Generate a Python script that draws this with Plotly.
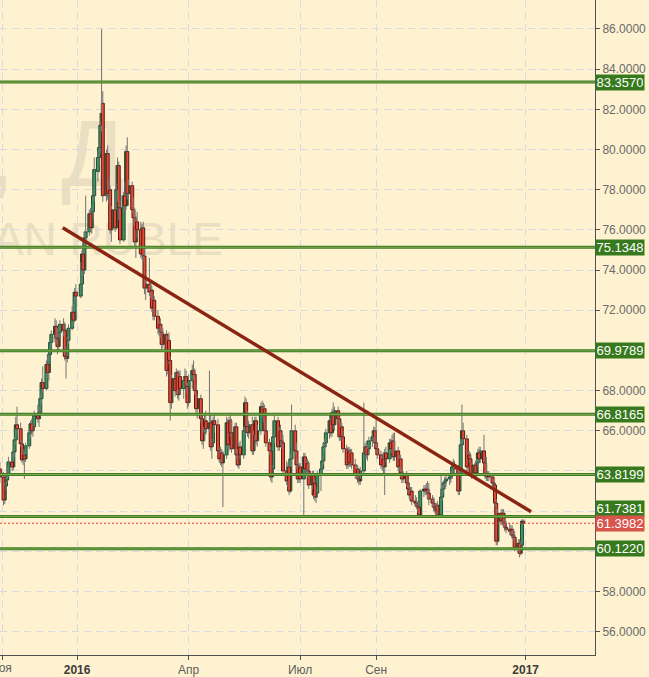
import plotly.graph_objects as go

# Daily USD/RUB candles: (day, open, high, low, close)
oct15 = [(30, 64.10, 64.45, 63.40, 63.70)]
nov15 = [
    (2, 63.70, 63.95, 62.30, 62.55), (3, 62.55, 63.40, 62.35, 63.25), (4, 63.25, 63.70, 63.05, 63.55),
    (5, 63.55, 64.20, 63.40, 63.85), (6, 63.85, 64.70, 63.70, 64.45), (9, 64.45, 64.90, 64.00, 64.20),
    (10, 64.20, 65.10, 64.05, 64.95), (11, 64.95, 65.70, 64.70, 65.55), (12, 65.55, 66.70, 65.30, 66.30),
    (13, 66.30, 67.20, 65.80, 66.10), (16, 66.10, 66.40, 65.20, 65.35), (17, 65.35, 65.60, 64.40, 64.55),
    (18, 64.55, 65.10, 64.30, 64.80), (19, 64.80, 65.00, 63.60, 64.60), (20, 64.60, 65.40, 64.45, 65.25),
    (23, 65.25, 66.10, 65.10, 65.90), (24, 65.90, 66.50, 65.60, 66.35), (25, 66.35, 66.60, 65.80, 66.00),
    (26, 66.00, 66.40, 65.70, 66.20), (27, 66.20, 67.00, 66.00, 66.75), (30, 66.75, 67.30, 66.40, 66.60),
]
dec15 = [
    (1, 66.60, 67.20, 66.20, 66.90), (2, 66.90, 67.80, 66.70, 67.60), (3, 67.60, 68.60, 67.30, 68.40),
    (4, 68.40, 69.20, 67.90, 68.10), (7, 68.10, 69.50, 68.00, 69.30), (8, 69.30, 69.80, 68.60, 68.90),
    (9, 68.90, 70.10, 68.50, 69.80), (10, 69.80, 70.60, 69.40, 70.40), (11, 70.40, 71.00, 70.00, 70.80),
    (14, 70.80, 71.60, 70.40, 71.20), (15, 71.20, 71.50, 70.30, 70.60), (16, 70.60, 71.10, 69.80, 70.20),
    (17, 70.20, 71.20, 70.00, 70.90), (18, 70.90, 71.50, 70.60, 71.30), (21, 71.30, 71.60, 70.70, 71.00),
    (22, 71.00, 71.40, 69.50, 69.70), (23, 69.70, 70.20, 68.60, 69.60), (24, 69.60, 70.70, 69.40, 70.50),
    (25, 70.50, 71.30, 70.30, 71.10), (28, 71.10, 72.20, 71.00, 71.90), (29, 71.90, 72.30, 71.20, 71.50),
    (30, 71.50, 73.10, 71.40, 72.90), (31, 72.90, 73.30, 72.40, 72.70),
]
jan16 = [
    (4, 72.70, 74.40, 72.60, 73.30), (5, 73.30, 75.00, 73.20, 74.80), (6, 74.80, 75.30, 73.70, 74.00),
    (7, 74.00, 75.90, 73.80, 75.60), (8, 75.60, 77.70, 75.20, 75.90), (11, 75.90, 77.00, 75.70, 76.80),
    (12, 76.80, 77.10, 75.90, 76.10), (13, 76.10, 77.20, 75.80, 76.90), (14, 76.90, 78.00, 76.50, 77.70),
    (15, 77.70, 79.60, 77.40, 79.00), (18, 78.90, 79.90, 78.40, 79.60), (19, 79.60, 80.40, 79.20, 80.10),
    (20, 80.10, 81.40, 79.80, 81.20), (21, 81.20, 85.99, 80.90, 81.80), (22, 82.30, 82.90, 77.40, 77.70),
    (25, 77.70, 80.00, 77.40, 79.80), (26, 79.80, 80.20, 77.50, 77.80), (27, 77.80, 78.60, 77.30, 78.00),
    (28, 78.00, 78.20, 75.80, 76.00), (29, 76.00, 77.20, 75.40, 77.00),
]
feb16 = [
    (1, 77.00, 77.80, 75.90, 76.10), (2, 76.10, 78.30, 76.00, 78.00), (3, 78.00, 79.60, 77.40, 79.20),
    (4, 79.20, 79.40, 76.50, 77.10), (5, 77.10, 77.50, 75.30, 75.50), (8, 75.50, 77.90, 75.40, 77.70),
    (9, 77.70, 78.40, 76.90, 77.20), (10, 77.20, 80.20, 77.00, 79.90), (11, 79.90, 80.60, 77.50, 77.80),
    (12, 77.80, 78.50, 77.20, 78.20), (15, 78.20, 78.40, 76.80, 77.00), (16, 77.00, 77.60, 76.20, 76.60),
    (17, 76.60, 77.10, 75.20, 75.40), (18, 75.40, 76.70, 74.60, 76.40), (19, 76.40, 76.90, 75.60, 76.00),
    (22, 76.00, 76.40, 74.60, 74.80), (23, 74.80, 76.30, 74.50, 76.10), (24, 76.10, 76.40, 74.40, 74.70),
    (25, 74.70, 75.20, 72.80, 73.10), (26, 73.10, 73.60, 72.50, 73.30), (29, 73.30, 74.60, 72.70, 72.90),
]
mar16 = [
    (1, 72.90, 73.40, 72.60, 73.00), (2, 73.00, 73.20, 71.90, 72.10), (3, 72.10, 72.80, 71.50, 72.50),
    (4, 72.50, 72.70, 71.50, 71.70), (7, 71.70, 72.00, 70.80, 71.10), (8, 71.10, 71.50, 70.70, 71.30),
    (9, 71.30, 71.60, 70.60, 70.90), (10, 70.90, 71.20, 70.00, 70.30), (11, 70.30, 71.10, 70.10, 70.80),
    (14, 70.80, 71.00, 68.70, 69.00), (15, 69.00, 70.70, 68.80, 70.50), (16, 70.50, 70.90, 69.30, 69.50),
    (17, 69.50, 69.70, 66.50, 67.40), (18, 67.40, 68.80, 67.10, 68.60), (21, 68.60, 68.90, 67.70, 68.00),
    (22, 68.00, 69.10, 67.80, 68.90), (23, 68.90, 69.00, 67.60, 67.80), (24, 67.80, 69.00, 67.50, 68.70),
    (25, 68.70, 69.00, 67.80, 68.10), (28, 68.10, 68.70, 67.60, 68.50), (29, 68.50, 69.10, 68.20, 68.70),
    (30, 68.70, 69.00, 67.90, 68.20), (31, 68.20, 68.40, 67.10, 67.40),
]
apr16 = [
    (1, 67.40, 68.80, 67.20, 68.50), (4, 68.50, 69.30, 68.10, 69.00), (5, 69.00, 69.50, 68.50, 68.80),
    (6, 68.80, 69.10, 67.80, 68.00), (7, 68.00, 68.30, 66.90, 67.10), (8, 67.10, 67.80, 66.60, 67.60),
    (11, 67.60, 67.80, 66.40, 66.60), (12, 66.60, 66.90, 65.30, 65.50), (13, 65.50, 66.20, 65.10, 65.90),
    (14, 65.90, 66.80, 65.50, 66.50), (15, 66.50, 67.00, 65.80, 66.10), (18, 66.10, 69.00, 65.90, 66.40),
    (19, 66.40, 66.80, 65.00, 65.20), (20, 65.20, 65.60, 64.60, 65.40), (21, 65.40, 66.70, 65.20, 66.50),
    (22, 66.50, 66.80, 65.90, 66.30), (25, 66.30, 66.60, 64.80, 65.00), (26, 65.00, 65.20, 64.40, 64.60),
    (27, 64.60, 65.20, 64.30, 64.90), (28, 64.90, 65.10, 64.20, 64.40), (29, 64.40, 65.00, 62.20, 64.80),
]
may16 = [
    (2, 64.80, 66.70, 64.60, 66.40), (3, 66.40, 66.60, 65.10, 65.30), (4, 65.30, 66.70, 65.00, 66.50),
    (5, 66.50, 66.90, 65.70, 65.90), (6, 65.90, 66.60, 64.90, 65.10), (9, 65.10, 66.40, 64.90, 66.20),
    (10, 66.20, 66.40, 64.60, 64.80), (11, 64.80, 65.10, 64.20, 64.30), (12, 64.30, 65.40, 64.10, 65.20),
    (13, 65.20, 65.50, 64.60, 64.80), (16, 64.80, 66.20, 64.60, 66.00), (17, 66.00, 67.70, 65.80, 67.40),
    (18, 67.40, 67.60, 66.00, 66.20), (19, 66.20, 67.00, 65.70, 65.90), (20, 65.90, 66.50, 65.60, 66.30),
    (23, 66.30, 66.70, 64.80, 65.00), (24, 65.00, 66.00, 64.80, 65.80), (25, 65.80, 66.70, 65.50, 66.50),
    (26, 66.50, 66.70, 65.30, 65.50), (27, 65.50, 66.30, 65.20, 66.00), (30, 66.00, 67.40, 65.80, 67.20),
    (31, 67.20, 67.50, 66.60, 66.80),
]
jun16 = [
    (1, 66.80, 67.40, 66.40, 67.10), (2, 67.10, 67.30, 65.80, 66.00), (3, 66.00, 66.50, 65.20, 65.40),
    (6, 65.40, 65.60, 64.80, 65.00), (7, 65.00, 65.20, 63.50, 63.70), (8, 63.70, 64.30, 63.40, 64.10),
    (9, 64.10, 65.90, 63.90, 65.70), (10, 65.70, 66.80, 65.40, 66.50), (13, 66.50, 66.70, 65.00, 65.20),
    (14, 65.20, 66.20, 65.00, 66.00), (15, 66.00, 66.30, 65.30, 65.50), (16, 65.50, 65.90, 65.10, 65.40),
    (17, 65.40, 65.80, 63.90, 64.00), (20, 64.00, 64.50, 63.30, 63.50), (21, 63.50, 64.40, 63.20, 64.20),
    (22, 64.20, 64.40, 62.80, 63.00), (23, 63.00, 64.80, 62.90, 64.60), (24, 64.60, 67.30, 64.20, 66.00),
    (27, 66.00, 66.30, 64.80, 65.00), (28, 65.00, 65.40, 64.10, 64.30), (29, 64.30, 64.60, 63.40, 63.60),
    (30, 63.60, 64.40, 63.40, 64.20),
]
jul16 = [
    (1, 64.20, 64.40, 63.40, 63.60), (4, 63.60, 64.90, 61.80, 64.70), (5, 64.70, 64.90, 63.90, 64.10),
    (6, 64.10, 64.60, 63.80, 64.40), (7, 64.40, 64.60, 63.70, 64.00), (8, 64.00, 64.50, 63.10, 63.30),
    (11, 63.30, 64.00, 63.10, 63.80), (12, 63.80, 64.00, 62.60, 62.80), (13, 63.40, 63.60, 62.50, 62.70),
    (14, 62.70, 63.20, 62.40, 62.90), (15, 62.90, 64.00, 62.70, 63.80), (18, 63.80, 64.30, 63.00, 64.10),
    (19, 64.10, 64.70, 63.90, 64.50), (20, 64.50, 65.40, 64.30, 65.20), (21, 65.20, 65.60, 64.90, 65.40),
    (22, 65.40, 66.10, 65.20, 65.90), (25, 65.90, 66.80, 65.60, 66.50), (26, 66.50, 66.70, 65.70, 65.90),
    (27, 65.90, 67.10, 65.70, 66.90), (28, 66.90, 67.40, 66.10, 66.30), (29, 66.30, 67.20, 66.00, 67.00),
]
aug16 = [
    (1, 67.00, 67.20, 66.40, 66.60), (2, 66.60, 66.70, 65.50, 65.70), (3, 65.70, 66.40, 65.50, 66.20),
    (4, 66.20, 66.40, 65.50, 65.70), (5, 65.70, 66.00, 64.90, 65.10), (8, 65.10, 65.30, 64.10, 64.30),
    (9, 64.30, 65.20, 64.10, 65.00), (10, 65.00, 65.20, 64.20, 64.40), (11, 64.40, 65.10, 64.20, 64.90),
    (12, 64.90, 65.10, 64.10, 64.30), (15, 64.30, 64.60, 63.60, 63.80), (16, 63.80, 64.30, 63.60, 64.10),
    (17, 64.10, 64.30, 63.40, 63.60), (18, 63.60, 63.90, 63.30, 63.50), (19, 63.50, 64.20, 63.30, 64.00),
    (22, 64.00, 67.40, 63.80, 64.90), (23, 64.90, 65.40, 64.60, 65.20), (24, 65.20, 65.50, 64.60, 64.80),
    (25, 64.80, 65.30, 64.50, 65.10), (26, 65.10, 65.70, 64.80, 65.50), (29, 65.50, 65.90, 65.20, 65.70),
    (30, 65.70, 66.20, 65.40, 66.00), (31, 66.00, 66.20, 65.20, 65.40),
]
sep16 = [
    (1, 65.40, 66.60, 64.90, 65.10), (2, 65.10, 65.40, 64.60, 64.80), (5, 64.80, 65.00, 64.10, 64.30),
    (6, 64.30, 64.80, 64.00, 64.60), (7, 64.60, 64.90, 63.90, 64.20), (8, 64.20, 65.10, 62.80, 64.90),
    (9, 64.90, 65.20, 64.40, 64.60), (12, 64.60, 65.60, 64.40, 65.40), (13, 65.40, 65.60, 64.90, 65.10),
    (14, 65.10, 65.80, 64.90, 65.50), (15, 65.50, 65.90, 64.50, 64.70), (16, 64.70, 65.90, 64.50, 65.00),
    (19, 65.00, 65.20, 64.00, 64.20), (20, 64.20, 64.80, 64.00, 64.60), (21, 64.60, 64.80, 63.70, 63.90),
    (22, 63.90, 64.20, 63.40, 63.60), (23, 63.60, 64.00, 63.40, 63.80), (26, 63.80, 64.00, 63.20, 63.40),
    (27, 63.40, 63.60, 62.90, 63.10), (28, 63.10, 63.40, 62.60, 62.80), (29, 62.80, 63.20, 62.60, 63.00),
    (30, 63.00, 63.20, 62.30, 62.50),
]
oct16 = [
    (3, 62.50, 62.80, 62.20, 62.40), (4, 62.40, 62.70, 62.10, 62.25), (5, 62.25, 62.50, 61.90, 62.20),
    (6, 62.20, 62.40, 61.70, 61.80), (7, 61.80, 63.10, 61.70, 63.00), (10, 63.00, 63.30, 62.70, 63.10),
    (11, 63.10, 63.30, 62.80, 63.00), (12, 63.00, 63.40, 62.80, 63.10), (13, 63.10, 63.50, 62.60, 62.90),
    (14, 62.90, 63.40, 62.30, 62.60), (17, 62.60, 62.80, 62.20, 62.40), (18, 62.40, 62.70, 62.00, 62.20),
    (19, 62.20, 62.40, 61.90, 62.10), (20, 62.10, 62.40, 61.80, 62.00), (21, 62.30, 62.50, 61.70, 61.80),
    (24, 61.80, 63.80, 61.70, 62.70), (25, 62.70, 63.30, 62.50, 63.10), (26, 63.10, 63.50, 62.90, 63.40),
    (27, 63.40, 63.70, 63.10, 63.50), (28, 63.50, 63.80, 63.20, 63.60), (31, 63.60, 63.90, 63.30, 63.70),
]
nov16 = [
    (1, 63.70, 64.00, 63.40, 63.80), (2, 63.80, 64.40, 63.60, 64.20), (3, 64.20, 64.60, 63.90, 64.30),
    (4, 64.30, 64.50, 63.90, 64.10), (7, 64.10, 64.30, 62.80, 63.00), (8, 63.00, 64.00, 62.80, 63.80),
    (9, 63.80, 65.60, 63.50, 65.30), (10, 65.30, 67.30, 65.00, 66.00), (11, 66.00, 66.40, 65.40, 65.60),
    (14, 65.60, 65.80, 64.00, 64.20), (15, 64.20, 65.00, 64.00, 64.80), (16, 64.80, 65.00, 64.40, 64.60),
    (17, 64.60, 64.90, 63.70, 63.80), (18, 63.80, 64.40, 63.60, 64.30), (21, 64.30, 64.50, 63.70, 63.90),
    (22, 63.90, 64.60, 63.70, 64.40), (23, 64.40, 65.10, 64.20, 64.90), (24, 64.90, 65.20, 64.40, 64.60),
    (25, 64.60, 65.20, 64.40, 65.00), (28, 65.00, 65.80, 64.20, 64.40), (29, 64.40, 64.70, 63.60, 63.80),
    (30, 63.80, 64.70, 63.50, 63.70),
]
dec16 = [
    (1, 63.70, 64.00, 63.50, 63.80), (2, 63.80, 64.00, 63.50, 63.70), (5, 63.70, 63.90, 63.20, 63.40),
    (6, 63.40, 63.60, 63.00, 63.30), (7, 63.30, 63.40, 62.20, 62.40), (8, 62.40, 62.60, 60.30, 60.50),
    (9, 60.50, 62.10, 60.30, 61.90), (12, 61.90, 62.10, 61.30, 61.50), (13, 61.50, 62.10, 61.30, 61.90),
    (14, 61.90, 62.10, 61.20, 61.40), (15, 61.40, 61.70, 61.00, 61.20), (16, 61.20, 61.50, 60.90, 61.10),
    (19, 61.10, 61.40, 60.80, 61.00), (20, 61.00, 61.30, 60.80, 61.10), (21, 61.10, 61.30, 60.60, 60.80),
    (22, 60.80, 61.10, 60.50, 60.70), (23, 60.70, 61.00, 60.00, 60.20), (26, 60.20, 60.60, 60.00, 60.40),
    (27, 60.40, 60.60, 59.70, 59.90), (28, 59.90, 60.50, 59.80, 60.30), (29, 60.30, 61.60, 60.20, 61.50),
    (30, 61.50, 61.60, 61.30, 61.40),
]

# Support / resistance levels and the last price
levels = [83.3570, 75.1348, 69.9789, 66.8165, 63.8199, 61.7381, 60.1220]
last_price = 61.3982

# Down trend line (two anchor points)
trend_dates = ['2015-12-20 07:00', '2017-01-05 10:00']
trend_values = [76.10, 61.97]

y_ticks = [56, 58, 60, 62, 64, 66, 68, 70, 72, 74, 76, 78, 80, 82, 84, 86]
# labels hidden behind the level boxes are left blank
y_labels = ['56.0000', '58.0000', '', '', '', '66.0000', '68.0000', '', '72.0000', '74.0000',
            '76.0000', '78.0000', '80.0000', '82.0000', '84.0000', '86.0000']
x_ticks = ['2015-11-01', '2016-01-01', '2016-04-01', '2016-07-01', '2016-09-01', '2017-01-01']
x_labels = ['ноя', '<b><span style="color:#3c3c3c">2016</span></b>', 'Апр', 'Июл', 'Сен',
            '<b><span style="color:#3c3c3c">2017</span></b>']

months = [(2015, 10, oct15), (2015, 11, nov15), (2015, 12, dec15), (2016, 1, jan16), (2016, 2, feb16),
          (2016, 3, mar16), (2016, 4, apr16), (2016, 5, may16), (2016, 6, jun16), (2016, 7, jul16),
          (2016, 8, aug16), (2016, 9, sep16), (2016, 10, oct16), (2016, 11, nov16), (2016, 12, dec16)]

BG = '#fef2d0'
GRID = '#d8dae2'
AXIS = '#505050'
candle_w = 2.4 * 24 * 3600 * 1000  # body width in ms

dates, opens, highs, lows, closes = [], [], [], [], []
for year, month, rows in months:
    for day, o, h, l, c in rows:
        dates.append(f'{year}-{month:02d}-{day:02d}')
        opens.append(o)
        highs.append(h)
        lows.append(l)
        closes.append(c)

fig = go.Figure()

# Wicks (above and below the body).
wx, wy = [], []
for d, o, h, l, c in zip(dates, opens, highs, lows, closes):
    wx += [d, d, None, d, d, None]
    wy += [h, max(o, c), None, min(o, c), l, None]
fig.add_trace(go.Scatter(x=wx, y=wy, mode='lines', line=dict(color='#737373', width=1),
                         hoverinfo='skip', showlegend=False))

# Bodies.
for rising, fill, edge in [(True, '#3f9468', '#1f4a2e'), (False, '#e24b3a', '#5a1810')]:
    idx = [i for i in range(len(dates)) if (closes[i] >= opens[i]) == rising]
    fig.add_trace(go.Bar(
        x=[dates[i] for i in idx],
        base=[min(opens[i], closes[i]) for i in idx],
        y=[max(abs(closes[i] - opens[i]), 0.06) for i in idx],
        width=candle_w,
        marker=dict(color=fill, line=dict(color=edge, width=1)),
        hoverinfo='skip', showlegend=False,
    ))

shapes = []
# Watermark, kept under the candles.
wm_font = 'Liberation Sans, Arial'
shapes.append(dict(type='rect', xref='paper', yref='paper', x0=-2, x1=128 / 595, y0=1 - 200 / 659,
                   y1=1 - 90 / 659, line=dict(width=0), fillcolor='rgba(0,0,0,0)', layer='below',
                   label=dict(text='USDRUB,\u2002Д', textposition='middle right', padding=0,
                              font=dict(size=94, color='#eadfc1', family=wm_font))))
shapes.append(dict(type='rect', xref='paper', yref='paper', x0=-2, x1=226 / 595, y0=1 - 258 / 659,
                   y1=1 - 214 / 659, line=dict(width=0), fillcolor='rgba(0,0,0,0)', layer='below',
                   label=dict(text='US DOLLAR / RUSSIAN RUBLE', textposition='middle right', padding=0,
                              font=dict(size=46, color='#eadfc1', family=wm_font))))

# Levels.
for lv in levels:
    shapes.append(dict(type='line', xref='paper', x0=0, x1=1, yref='y', y0=lv, y1=lv,
                       line=dict(color='#3f7a24', width=3), layer='above'))
    shapes.append(dict(type='line', xref='paper', x0=0, x1=1, yref='y', y0=lv, y1=lv,
                       line=dict(color='#7eab4e', width=1), layer='above'))
shapes.append(dict(type='line', xref='paper', x0=0, x1=1, yref='y', y0=last_price, y1=last_price,
                   line=dict(color='#e8382c', width=1, dash='2px,2px'), layer='above'))

# Trend line.
shapes.append(dict(type='line', xref='x', yref='y', x0=trend_dates[0], x1=trend_dates[1],
                   y0=trend_values[0], y1=trend_values[1],
                   line=dict(color='#8a2413', width=3.5), layer='above'))

annotations = []
for lv in levels:
    annotations.append(dict(
        x=1, xref='paper', xanchor='left', y=lv, yref='y', yanchor='middle',
        yshift=8 if abs(lv - last_price) < 0.5 else 0,
        text=f'{lv:.4f}', showarrow=False, bgcolor='#377a1e', width=46, height=13, borderpad=1,
        font=dict(color='white', size=13, family='Liberation Sans, Arial'),
    ))
annotations.append(dict(
    x=1, xref='paper', xanchor='left', y=last_price, yref='y', yanchor='middle',
    text=f'{last_price:.4f}', showarrow=False, bgcolor='#d9544a', width=46, height=13, borderpad=1,
    font=dict(color='white', size=13, family='Liberation Sans, Arial'),
))
# first month label sits half outside the page, so it is drawn as a note below its tick
annotations.append(dict(
    x=x_ticks[0], xref='x', xanchor='center', y=0, yref='paper', yanchor='top', yshift=-4,
    text=x_labels[0], showarrow=False,
    font=dict(color='#5e5e5e', size=12, family='Liberation Sans, Arial'),
))

fig.update_layout(
    width=649, height=677,
    margin=dict(l=0, r=54, t=0, b=18),
    paper_bgcolor=BG, plot_bgcolor=BG,
    barmode='overlay', showlegend=False,
    font=dict(family='Liberation Sans, Arial', size=12, color='#666666'),
    shapes=shapes, annotations=annotations,
)
fig.update_xaxes(
    type='date', range=['2015-10-30 03:00', '2017-02-26 14:00'],
    tickvals=x_ticks, ticktext=[''] + x_labels[1:], tickangle=0,
    showgrid=True, gridcolor=GRID, griddash='7px,5px', gridwidth=1,
    ticks='outside', ticklen=4, tickcolor=AXIS,
    showline=True, linecolor=AXIS, linewidth=1, zeroline=False,
    tickfont=dict(size=12, color='#5e5e5e'),
)
fig.update_yaxes(
    side='right', range=[54.84, 87.44],
    tickvals=y_ticks, ticktext=y_labels,
    showgrid=True, gridcolor=GRID, griddash='7px,5px', gridwidth=1,
    ticks='outside', ticklen=4, tickcolor=AXIS,
    showline=True, linecolor=AXIS, linewidth=1, zeroline=False,
    tickfont=dict(size=12, color='#6b6b6b'),
)

# drop the browser's default page margin so the figure sits at the window's corner
fig.write_html('out.html', config={'displayModeBar': False},
               post_script="document.body.style.margin='0px';")
